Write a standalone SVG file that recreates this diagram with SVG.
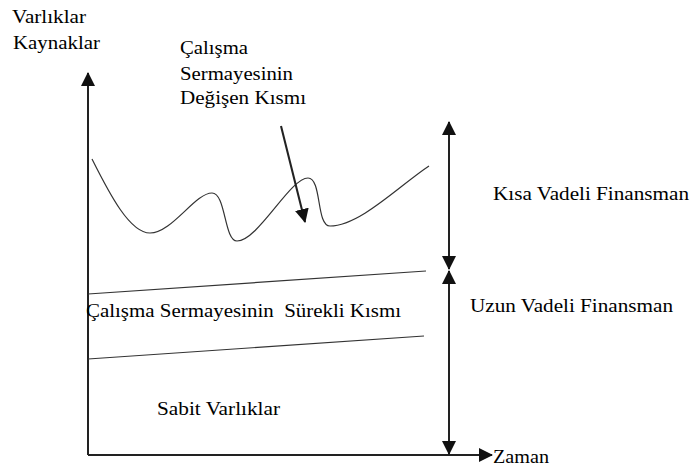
<svg xmlns="http://www.w3.org/2000/svg" width="695" height="468" viewBox="0 0 695 468">
<style>
.t{font-family:"Liberation Serif","Times New Roman",serif;font-size:19px;fill:#000}
.ax{stroke:#222;stroke-width:2;fill:none}
.ln{stroke:#333;stroke-width:1.2;fill:none}
.ah{fill:#111}
</style>
<defs>
<marker id="tri" viewBox="0 0 14 14" refX="13" refY="7" markerWidth="14" markerHeight="14" markerUnits="userSpaceOnUse" orient="auto-start-reverse"><path d="M0,0 L14,7 L0,14 Z" class="ah"/></marker>
</defs>
<rect width="695" height="468" fill="#fff"/>
<g id="axes">
<line class="ax" x1="88" y1="455" x2="88" y2="73" marker-end="url(#tri)"/>
<line class="ax" x1="88" y1="455" x2="492" y2="455" marker-end="url(#tri)"/>
</g>
<g id="curve">
<path class="ln" d="M92,159 C110,195 130,233 150,233 C172,233 195,193 212,193 C226,193 224,241 237,241 C258,241 290,178 308,178 C322,178 316,226 330,226 C360,226 400,185 429,166"/>
</g>
<g id="bands">
<line class="ln" x1="88" y1="294" x2="426" y2="271"/>
<line class="ln" x1="88" y1="359" x2="424" y2="336"/>
</g>
<g id="connectors">
<line class="ax" x1="281" y1="126" x2="305" y2="222" marker-end="url(#tri)"/>
<line class="ax" x1="449" y1="122" x2="449" y2="269" marker-start="url(#tri)" marker-end="url(#tri)"/>
<line class="ax" x1="449" y1="271" x2="449" y2="454" marker-start="url(#tri)" marker-end="url(#tri)"/>
</g>
<g id="labels">
<text class="t" x="12" y="23" textLength="74" lengthAdjust="spacingAndGlyphs">Varlıklar</text>
<text class="t" x="13" y="49" textLength="87" lengthAdjust="spacingAndGlyphs">Kaynaklar</text>
<text class="t" x="180" y="54" textLength="68" lengthAdjust="spacingAndGlyphs">Çalışma</text>
<text class="t" x="180" y="80" textLength="113" lengthAdjust="spacingAndGlyphs">Sermayesinin</text>
<text class="t" x="180" y="104" textLength="126" lengthAdjust="spacingAndGlyphs">Değişen Kısmı</text>
<text class="t" x="493" y="200" textLength="196" lengthAdjust="spacingAndGlyphs">Kısa Vadeli Finansman</text>
<text class="t" x="470" y="312" textLength="203" lengthAdjust="spacingAndGlyphs">Uzun Vadeli Finansman</text>
<text class="t" x="86" y="317" textLength="315" lengthAdjust="spacingAndGlyphs" xml:space="preserve">Çalışma Sermayesinin  Sürekli Kısmı</text>
<text class="t" x="157" y="415" textLength="123" lengthAdjust="spacingAndGlyphs">Sabit Varlıklar</text>
<text class="t" x="493" y="463" textLength="56" lengthAdjust="spacingAndGlyphs">Zaman</text>
</g>
</svg>
